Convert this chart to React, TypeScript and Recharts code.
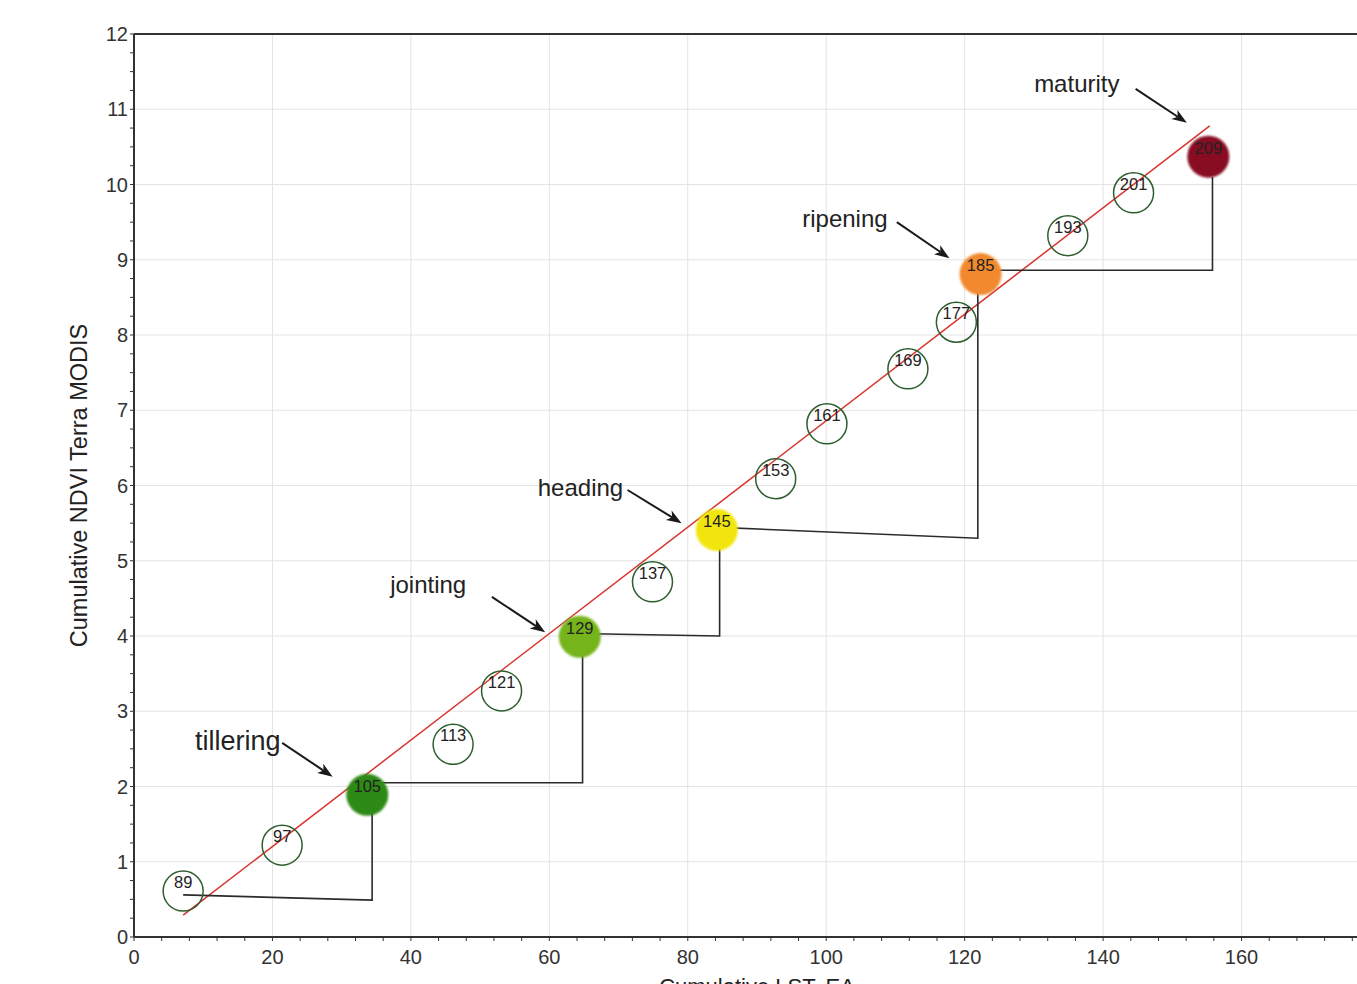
import React from 'react';
import {
  ComposedChart,
  XAxis,
  YAxis,
  CartesianGrid,
  Scatter,
  Line,
  ReferenceLine,
} from 'recharts';

// day of year of each MODIS composite
const doy = [89, 97, 105, 113, 121, 129, 137, 145, 153, 161, 169, 177, 185, 193, 201, 209];
// cumulative LST (x) and cumulative NDVI (y) at each date
const cumLst = [7.1, 21.4, 33.7, 46.1, 53.1, 64.4, 74.9, 84.2, 92.7, 100.1, 111.8, 118.8, 122.3, 134.9, 144.4, 155.2];
const cumNdvi = [0.61, 1.22, 1.89, 2.56, 3.27, 3.99, 4.72, 5.41, 6.09, 6.82, 7.55, 8.17, 8.81, 9.32, 9.89, 10.37];

// phenological stages and the date each one falls on
const stageNames = ['tillering', 'jointing', 'heading', 'ripening', 'maturity'];
const stageDoy = [105, 129, 145, 185, 209];
const stageColors = ['#2f8a18', '#76b41f', '#f1e50b', '#f3892d', '#880822'];
const stageFont = [27, 24, 24, 24, 24];
const stageTextX = [15.0, 42.5, 64.5, 102.7, 136.2];
const stageTextY = [2.6, 4.69, 5.98, 9.55, 11.34];
const arrowFromX = [21.4, 51.7, 71.3, 110.2, 144.7];
const arrowFromY = [2.58, 4.52, 5.94, 9.5, 11.27];
const arrowToX = [28.7, 59.4, 79.1, 117.8, 152.1];
const arrowToY = [2.13, 4.05, 5.5, 9.02, 10.82];

// step connectors between consecutive stages
const stepX = [
  [7.1, 34.4, 34.4],
  [34.4, 64.8, 64.8],
  [66.1, 84.6, 84.6],
  [85.3, 121.9, 121.9],
  [122.3, 155.8, 155.8],
];
const stepY = [
  [0.56, 0.49, 1.82],
  [2.05, 2.05, 3.95],
  [4.03, 4.0, 5.35],
  [5.44, 5.3, 8.81],
  [8.86, 8.86, 10.1],
];

// linear fit
const trendX = [7.1, 155.4];
const trendY = [0.29, 10.78];

const xMajor = [0, 20, 40, 60, 80, 100, 120, 140, 160, 180];
const yMajor = [0, 1, 2, 3, 4, 5, 6, 7, 8, 9, 10, 11, 12];
const xMinor = Array.from({ length: 46 }, (_, i) => i * 4);
const yMinor = Array.from({ length: 49 }, (_, i) => i * 0.25);

const points = doy.map((d, i) => ({ doy: d, x: cumLst[i], y: cumNdvi[i] }));
const stageTexts = stageNames.map((name, i) => ({ name, size: stageFont[i], x: stageTextX[i], y: stageTextY[i] }));
const trend = trendX.map((x, i) => ({ x, y: trendY[i] }));
const steps = stepX.map((xs, i) => xs.map((x, j) => ({ x, y: stepY[i][j] })));

const ink = '#333';

const Marker = (p: any) => {
  const k = stageDoy.indexOf(p.payload.doy);
  if (k >= 0) {
    return <circle cx={p.cx} cy={p.cy} r={21} fill={stageColors[k]} filter="url(#soft)" />;
  }
  return <circle cx={p.cx} cy={p.cy} r={20} fill="none" stroke="#2e5e2e" strokeWidth={1.5} />;
};

const DoyLabel = (p: any) => (
  <text x={p.cx} y={p.cy - 9} textAnchor="middle" dominantBaseline="central" fontSize={16.5} fill="#222">
    {p.payload.doy}
  </text>
);

const StageText = (p: any) => (
  <text x={p.cx} y={p.cy} textAnchor="middle" dominantBaseline="central" fontSize={p.payload.size} fill="#222">
    {p.payload.name}
  </text>
);

const Arrow = (p: any) => {
  const { x1, y1, x2, y2 } = p;
  const a = Math.atan2(y2 - y1, x2 - x1);
  const len = 15;
  const half = 5.5;
  const bx = x2 - len * Math.cos(a);
  const by = y2 - len * Math.sin(a);
  const nx = bx + 4 * Math.cos(a);
  const ny = by + 4 * Math.sin(a);
  const head = [
    [x2, y2],
    [bx + half * Math.sin(a), by - half * Math.cos(a)],
    [nx, ny],
    [bx - half * Math.sin(a), by + half * Math.cos(a)],
  ]
    .map((q) => q.join(','))
    .join(' ');
  return (
    <g>
      <line x1={x1} y1={y1} x2={nx} y2={ny} stroke="#1a1a1a" strokeWidth={2} />
      <polygon points={head} fill="#1a1a1a" />
    </g>
  );
};

const XTick = (p: any) => {
  const v = p.payload.value;
  if (v % 20 !== 0) return <g />;
  return (
    <text x={p.x} y={p.y} dy="0.71em" textAnchor="middle" fontSize={20} fill={ink}>
      {v}
    </text>
  );
};

const YTick = (p: any) => {
  const v = p.payload.value;
  if (!Number.isInteger(v)) return <g />;
  return (
    <text x={p.x} y={p.y} textAnchor="end" dominantBaseline="central" fontSize={20} fill={ink}>
      {v}
    </text>
  );
};

const App = () => {
  return (
    <div
      style={{
        position: 'fixed',
        left: 0,
        top: 0,
        width: 1357,
        height: 984,
        overflow: 'hidden',
        background: '#fff',
        fontFamily: "Arial, 'Liberation Sans', sans-serif",
      }}
    >
      <svg width={0} height={0} style={{ position: 'absolute' }}>
        <defs>
          <filter id="soft" x="-20%" y="-20%" width="140%" height="140%">
            <feGaussianBlur stdDeviation={0.9} />
          </filter>
        </defs>
      </svg>
      <ComposedChart width={1400} height={1010} margin={{ top: 24, right: 20, bottom: 23, left: 0 }}>
        <CartesianGrid stroke="#e3e3e3" horizontalValues={yMajor} verticalValues={xMajor} />
        <XAxis
          dataKey="x"
          type="number"
          domain={[0, 180]}
          ticks={xMinor}
          interval={0}
          height={50}
          tickSize={4}
          tickMargin={9}
          tick={XTick}
          tickLine={{ stroke: ink }}
          axisLine={{ stroke: ink, strokeWidth: 2 }}
          label={{
            content: (lp: any) => (
              <text
                x={lp.viewBox.x + lp.viewBox.width / 2}
                y={lp.viewBox.y + 57}
                textAnchor="middle"
                fontSize={22}
                fill="#222"
              >
                Cumulative LST, EA
              </text>
            ),
          }}
        />
        <XAxis
          xAxisId="top"
          orientation="top"
          dataKey="x"
          type="number"
          domain={[0, 180]}
          ticks={xMinor}
          interval={0}
          height={10}
          tickSize={4}
          tick={() => <g />}
          tickLine={{ stroke: ink }}
          axisLine={{ stroke: ink, strokeWidth: 2 }}
        />
        <YAxis
          type="number"
          domain={[0, 12]}
          ticks={yMinor}
          interval={0}
          width={134}
          tickSize={4}
          tickMargin={2}
          tick={YTick}
          tickLine={{ stroke: ink }}
          axisLine={{ stroke: ink, strokeWidth: 2 }}
          label={{
            content: (lp: any) => {
              const cx = lp.viewBox.x + 79;
              const cy = lp.viewBox.y + lp.viewBox.height / 2;
              return (
                <text
                  x={cx}
                  y={cy}
                  transform={`rotate(-90 ${cx} ${cy})`}
                  textAnchor="middle"
                  dominantBaseline="central"
                  fontSize={23.5}
                  fill="#222"
                >
                  Cumulative NDVI Terra MODIS
                </text>
              );
            },
          }}
        />
        <Scatter data={points} dataKey="y" shape={Marker} isAnimationActive={false} />
        <Line
          data={trend}
          dataKey="y"
          stroke="#d8352f"
          strokeWidth={1.5}
          dot={false}
          activeDot={false}
          isAnimationActive={false}
        />
        {steps.map((s, i) => (
          <Line
            key={`step-${i}`}
            data={s}
            dataKey="y"
            stroke="#2b2b2b"
            strokeWidth={1.6}
            dot={false}
            activeDot={false}
            isAnimationActive={false}
          />
        ))}
        <Scatter data={points} dataKey="y" shape={DoyLabel} isAnimationActive={false} />
        <Scatter data={stageTexts} dataKey="y" shape={StageText} isAnimationActive={false} />
        {stageNames.map((n, i) => (
          <ReferenceLine
            key={n}
            segment={[
              { x: arrowFromX[i], y: arrowFromY[i] },
              { x: arrowToX[i], y: arrowToY[i] },
            ]}
            shape={Arrow}
          />
        ))}
      </ComposedChart>
    </div>
  );
};

export default App;
